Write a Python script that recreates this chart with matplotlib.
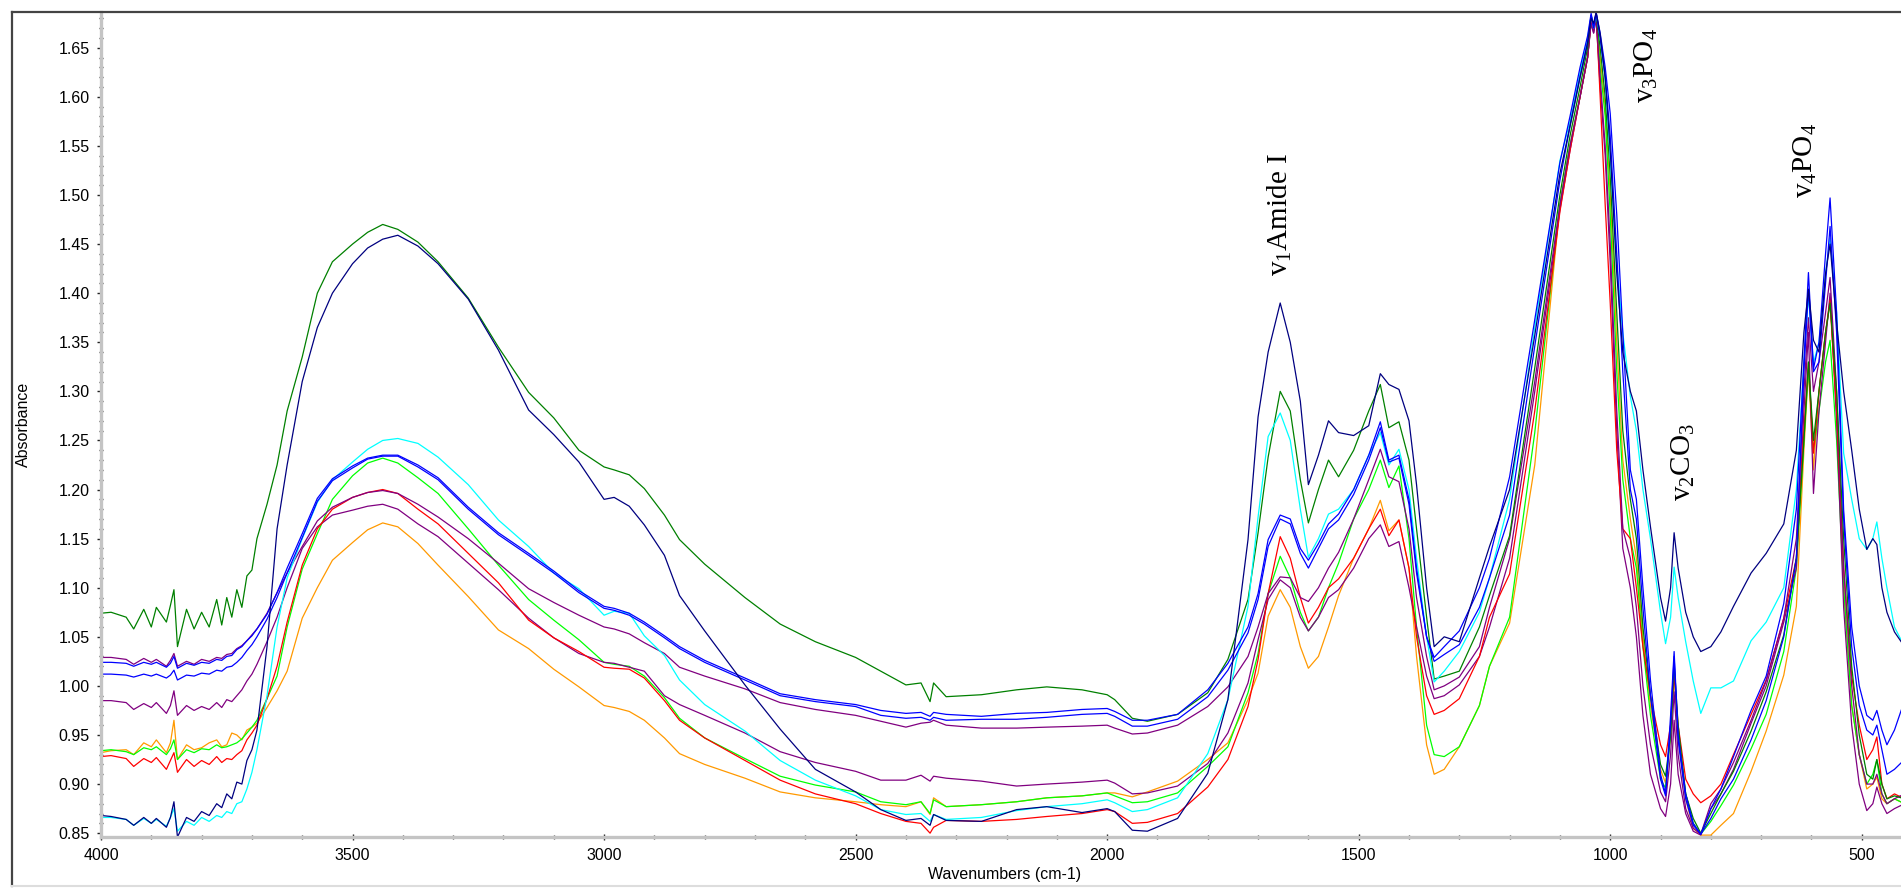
"""FTIR spectra (Absorbance vs wavenumber) with band labels."""

import matplotlib
matplotlib.use("Agg")
import matplotlib.pyplot as plt
from matplotlib.lines import Line2D
from matplotlib.ticker import MultipleLocator, FormatStrFormatter

# --- data: wavenumber grid (cm-1) shared by every spectrum ----------------
wavenumbers = [
    4000, 3980, 3950, 3935, 3915, 3900, 3890, 3870, 3862, 3855,
    3848, 3830, 3815, 3800, 3785, 3770, 3760, 3750, 3740, 3730,
    3720, 3710, 3700, 3690, 3670, 3650, 3630, 3600, 3570, 3540,
    3500,
    3470, 3440, 3410, 3370, 3330, 3270, 3210, 3150, 3100, 3050,
    3000, 2980, 2950, 2920, 2880, 2850, 2800, 2720, 2650, 2580,
    2500, 2450, 2400, 2370, 2352, 2345, 2320, 2250, 2180, 2120,
    2050, 2000, 1985, 1950, 1920, 1860, 1800, 1760, 1720, 1700,
    1680, 1656, 1636, 1616, 1600, 1580, 1560, 1540, 1510, 1480,
    1457, 1440, 1420, 1400, 1385, 1365, 1350, 1330, 1300, 1260,
    1240, 1200, 1150, 1100, 1080, 1060, 1045, 1038, 1033, 1028,
    1020, 1010, 1000, 987, 975, 960, 948, 935, 920, 900,
    890, 880, 873, 865, 850, 835, 820, 800, 780, 755,
    720, 690, 655, 630, 615, 606, 596, 585, 572, 563,
    550, 536, 520, 505, 490, 478, 470, 460, 450, 435,
    415,
]

green = [
    1.074, 1.075, 1.070, 1.058, 1.078, 1.060, 1.080, 1.065, 1.082, 1.098,
    1.040, 1.078, 1.058, 1.075, 1.060, 1.088, 1.062, 1.090, 1.070, 1.098,
    1.080, 1.112, 1.118, 1.150, 1.185, 1.225, 1.280, 1.335, 1.400, 1.432,
    1.450,
    1.462, 1.470, 1.465, 1.452, 1.432, 1.395, 1.345, 1.299, 1.273, 1.240,
    1.223, 1.220, 1.215, 1.201, 1.174, 1.149, 1.124, 1.090, 1.063, 1.045,
    1.029, 1.015, 1.001, 1.003, 0.984, 1.003, 0.989, 0.991, 0.996, 0.999,
    0.996, 0.991, 0.986, 0.967, 0.964, 0.971, 0.993, 1.027, 1.088, 1.156,
    1.233, 1.300, 1.280, 1.210, 1.166, 1.200, 1.230, 1.213, 1.240, 1.280,
    1.307, 1.263, 1.269, 1.230, 1.160, 1.070, 1.007, 1.010, 1.015, 1.060,
    1.092, 1.153, 1.324, 1.500, 1.560, 1.610, 1.650, 1.683, 1.672, 1.684,
    1.650, 1.600, 1.520, 1.380, 1.260, 1.190, 1.150, 1.060, 0.990, 0.920,
    0.908, 0.950, 1.023, 0.960, 0.890, 0.865, 0.850, 0.870, 0.890, 0.913,
    0.954, 0.994, 1.052, 1.130, 1.250, 1.330, 1.250, 1.300, 1.360, 1.390,
    1.300, 1.150, 1.020, 0.950, 0.910, 0.905, 0.925, 0.900, 0.885, 0.888,
    0.885,
]

navy = [
    0.868, 0.867, 0.864, 0.858, 0.866, 0.860, 0.865, 0.856, 0.866, 0.882,
    0.846, 0.866, 0.862, 0.872, 0.868, 0.880, 0.876, 0.890, 0.885, 0.902,
    0.900, 0.924, 0.935, 0.955, 1.040, 1.160, 1.225, 1.310, 1.365, 1.400,
    1.430,
    1.446, 1.455, 1.459, 1.448, 1.430, 1.394, 1.342, 1.281, 1.256, 1.228,
    1.190, 1.192, 1.183, 1.164, 1.133, 1.092, 1.056, 1.001, 0.956, 0.915,
    0.892, 0.874, 0.863, 0.865, 0.858, 0.869, 0.863, 0.862, 0.874, 0.877,
    0.871, 0.875, 0.872, 0.853, 0.852, 0.865, 0.911, 0.986, 1.149, 1.274,
    1.340, 1.390, 1.350, 1.290, 1.205, 1.235, 1.270, 1.258, 1.255, 1.265,
    1.318, 1.307, 1.302, 1.270, 1.205, 1.100, 1.040, 1.050, 1.045, 1.110,
    1.142, 1.200, 1.357, 1.522, 1.570, 1.620, 1.655, 1.680, 1.675, 1.686,
    1.664, 1.620, 1.545, 1.420, 1.340, 1.300, 1.280, 1.220, 1.162, 1.090,
    1.066, 1.100, 1.156, 1.120, 1.075, 1.050, 1.035, 1.040, 1.055, 1.081,
    1.115, 1.135, 1.165, 1.240, 1.360, 1.404, 1.352, 1.340, 1.420, 1.450,
    1.370, 1.300, 1.240, 1.180, 1.139, 1.150, 1.144, 1.100, 1.075, 1.055,
    1.040,
]

cyan = [
    0.866, 0.866, 0.864, 0.858, 0.865, 0.860, 0.864, 0.857, 0.866, 0.875,
    0.852, 0.862, 0.858, 0.866, 0.862, 0.868, 0.866, 0.872, 0.870, 0.880,
    0.882, 0.895, 0.912, 0.935, 0.990, 1.060, 1.110, 1.150, 1.187, 1.210,
    1.228,
    1.241, 1.250, 1.252, 1.247, 1.233, 1.205, 1.169, 1.142, 1.115, 1.099,
    1.072, 1.076, 1.074, 1.051, 1.031, 1.006, 0.981, 0.954, 0.924, 0.904,
    0.888, 0.874, 0.869, 0.870, 0.862, 0.869, 0.864, 0.866, 0.873, 0.877,
    0.880, 0.884, 0.881, 0.872, 0.874, 0.886, 0.931, 0.986, 1.081, 1.172,
    1.254, 1.278, 1.250, 1.180, 1.131, 1.150, 1.175, 1.180, 1.200, 1.235,
    1.258, 1.225, 1.241, 1.200, 1.130, 1.050, 1.004, 1.015, 1.035, 1.075,
    1.110, 1.190, 1.365, 1.535, 1.575, 1.625, 1.660, 1.682, 1.670, 1.685,
    1.660, 1.620, 1.537, 1.430, 1.360, 1.295, 1.260, 1.200, 1.150, 1.075,
    1.043, 1.070, 1.121, 1.090, 1.045, 1.005, 0.972, 0.998, 0.998, 1.005,
    1.046, 1.065, 1.100, 1.200, 1.330, 1.398, 1.329, 1.350, 1.420, 1.456,
    1.380, 1.237, 1.190, 1.150, 1.139, 1.150, 1.167, 1.130, 1.100, 1.060,
    1.040,
]

blue_a = [
    1.024, 1.024, 1.023, 1.020, 1.024, 1.022, 1.024, 1.019, 1.023, 1.030,
    1.018, 1.023, 1.021, 1.024, 1.023, 1.027, 1.026, 1.030, 1.031, 1.037,
    1.040, 1.046, 1.051, 1.058, 1.073, 1.095, 1.120, 1.155, 1.191, 1.211,
    1.224,
    1.232, 1.235, 1.235, 1.225, 1.212, 1.182, 1.156, 1.135, 1.117, 1.097,
    1.081, 1.079, 1.074, 1.065, 1.051, 1.040, 1.026, 1.008, 0.992, 0.986,
    0.981, 0.975, 0.972, 0.973, 0.969, 0.973, 0.971, 0.969, 0.972, 0.973,
    0.976, 0.977, 0.974, 0.965, 0.965, 0.971, 0.996, 1.023, 1.060, 1.094,
    1.149, 1.174, 1.170, 1.140, 1.128, 1.145, 1.165, 1.175, 1.200, 1.235,
    1.269, 1.230, 1.235, 1.190, 1.120, 1.050, 1.029, 1.040, 1.056, 1.100,
    1.130, 1.213, 1.373, 1.533, 1.580, 1.630, 1.662, 1.685, 1.672, 1.686,
    1.665, 1.630, 1.583, 1.480, 1.360, 1.220, 1.190, 1.100, 1.006, 0.910,
    0.890, 0.970, 1.035, 0.950, 0.890, 0.860, 0.849, 0.875, 0.895, 0.928,
    0.975, 1.010, 1.084, 1.180, 1.330, 1.421, 1.323, 1.350, 1.440, 1.497,
    1.380, 1.179, 1.060, 1.000, 0.970, 0.965, 0.975, 0.955, 0.940, 0.955,
    0.985,
]

blue_b = [
    1.012, 1.012, 1.011, 1.009, 1.012, 1.010, 1.012, 1.008, 1.011, 1.016,
    1.006, 1.011, 1.010, 1.013, 1.012, 1.016, 1.015, 1.019, 1.020, 1.024,
    1.029, 1.036, 1.042, 1.050, 1.068, 1.090, 1.115, 1.151, 1.188, 1.209,
    1.222,
    1.231, 1.234, 1.234, 1.223, 1.210, 1.180, 1.154, 1.133, 1.115, 1.095,
    1.079, 1.077, 1.072, 1.063, 1.049, 1.038, 1.024, 1.006, 0.990, 0.984,
    0.979, 0.970, 0.967, 0.968, 0.965, 0.968, 0.965, 0.966, 0.966, 0.968,
    0.971, 0.972, 0.969, 0.959, 0.959, 0.966, 0.989, 1.016, 1.054, 1.088,
    1.142, 1.170, 1.165, 1.135, 1.120, 1.140, 1.160, 1.169, 1.195, 1.230,
    1.263, 1.228, 1.232, 1.185, 1.115, 1.050, 1.025, 1.032, 1.042, 1.080,
    1.110, 1.174, 1.346, 1.515, 1.570, 1.620, 1.655, 1.683, 1.670, 1.685,
    1.660, 1.620, 1.560, 1.440, 1.320, 1.200, 1.170, 1.080, 0.990, 0.905,
    0.888, 0.960, 1.030, 0.945, 0.885, 0.858, 0.849, 0.865, 0.885, 0.905,
    0.945, 0.985, 1.050, 1.130, 1.320, 1.404, 1.320, 1.330, 1.410, 1.468,
    1.360, 1.170, 1.040, 0.980, 0.955, 0.950, 0.960, 0.935, 0.910, 0.915,
    0.925,
]

purple_a = [
    1.029, 1.029, 1.027, 1.022, 1.028, 1.024, 1.027, 1.020, 1.026, 1.033,
    1.020, 1.025, 1.022, 1.027, 1.025, 1.029, 1.028, 1.032, 1.033, 1.038,
    1.041, 1.046, 1.052, 1.058, 1.074, 1.095, 1.115, 1.142, 1.168, 1.182,
    1.192,
    1.197, 1.199, 1.196, 1.185, 1.172, 1.150, 1.125, 1.099, 1.085, 1.072,
    1.060, 1.058, 1.053, 1.044, 1.033, 1.019, 1.010, 0.997, 0.983, 0.976,
    0.970, 0.964, 0.958, 0.962, 0.963, 0.965, 0.960, 0.957, 0.957, 0.958,
    0.959, 0.960, 0.957, 0.951, 0.952, 0.960, 0.979, 0.999, 1.030, 1.060,
    1.094, 1.111, 1.110, 1.090, 1.086, 1.100, 1.120, 1.136, 1.170, 1.210,
    1.241, 1.213, 1.208, 1.160, 1.090, 1.030, 0.996, 1.000, 1.009, 1.040,
    1.080, 1.150, 1.310, 1.490, 1.550, 1.600, 1.640, 1.675, 1.665, 1.680,
    1.620, 1.550, 1.450, 1.280, 1.160, 1.130, 1.080, 1.000, 0.940, 0.892,
    0.882, 0.930, 0.994, 0.930, 0.875, 0.855, 0.849, 0.880, 0.895, 0.922,
    0.965, 1.005, 1.069, 1.150, 1.300, 1.375, 1.300, 1.330, 1.380, 1.416,
    1.300, 1.120, 1.000, 0.930, 0.900, 0.900, 0.910, 0.890, 0.880, 0.885,
    0.890,
]

purple_b = [
    0.985, 0.985, 0.983, 0.976, 0.982, 0.978, 0.983, 0.972, 0.980, 0.995,
    0.970, 0.980, 0.975, 0.979, 0.976, 0.983, 0.978, 0.986, 0.984, 0.990,
    0.996, 1.005, 1.012, 1.022, 1.045, 1.070, 1.100, 1.140, 1.162, 1.174,
    1.179,
    1.183, 1.185, 1.180, 1.165, 1.152, 1.125, 1.098, 1.069, 1.049, 1.033,
    1.024, 1.023, 1.019, 1.015, 0.990, 0.981, 0.970, 0.952, 0.933, 0.922,
    0.913, 0.904, 0.904, 0.909, 0.903, 0.908, 0.906, 0.903, 0.898, 0.900,
    0.902, 0.904, 0.901, 0.890, 0.891, 0.898, 0.921, 0.952, 1.003, 1.047,
    1.088, 1.108, 1.100, 1.070, 1.056, 1.070, 1.090, 1.098, 1.120, 1.150,
    1.164, 1.142, 1.147, 1.100, 1.060, 1.010, 0.987, 0.990, 1.001, 1.030,
    1.060, 1.130, 1.300, 1.485, 1.545, 1.600, 1.640, 1.675, 1.665, 1.680,
    1.610, 1.540, 1.430, 1.260, 1.140, 1.100, 1.050, 0.970, 0.910, 0.875,
    0.867, 0.900, 0.965, 0.910, 0.870, 0.852, 0.848, 0.875, 0.890, 0.915,
    0.962, 1.000, 1.065, 1.120, 1.280, 1.360, 1.196, 1.280, 1.350, 1.400,
    1.270, 1.080, 0.960, 0.900, 0.873, 0.880, 0.897, 0.880, 0.870, 0.875,
    0.880,
]

red = [
    0.928, 0.929, 0.926, 0.918, 0.926, 0.922, 0.927, 0.915, 0.924, 0.932,
    0.912, 0.925, 0.918, 0.924, 0.920, 0.928, 0.922, 0.926, 0.925, 0.930,
    0.934, 0.945, 0.952, 0.960, 0.987, 1.020, 1.065, 1.123, 1.160, 1.180,
    1.192,
    1.197, 1.200, 1.196, 1.180, 1.165, 1.135, 1.105, 1.067, 1.049, 1.035,
    1.019, 1.018, 1.017, 1.008, 0.985, 0.965, 0.947, 0.924, 0.904, 0.890,
    0.880, 0.870, 0.862, 0.860, 0.850, 0.856, 0.863, 0.862, 0.864, 0.867,
    0.870, 0.874, 0.872, 0.860, 0.861, 0.870, 0.897, 0.925, 0.979, 1.027,
    1.094, 1.152, 1.130, 1.090, 1.064, 1.080, 1.100, 1.109, 1.130, 1.160,
    1.180, 1.153, 1.169, 1.120, 1.050, 0.990, 0.971, 0.975, 0.987, 1.030,
    1.070, 1.114, 1.280, 1.483, 1.545, 1.600, 1.640, 1.678, 1.668, 1.685,
    1.600, 1.490, 1.390, 1.240, 1.160, 1.150, 1.100, 1.040, 0.990, 0.940,
    0.928, 0.960, 1.011, 0.960, 0.905, 0.890, 0.881, 0.888, 0.900, 0.930,
    0.971, 1.006, 1.069, 1.130, 1.260, 1.329, 1.237, 1.300, 1.360, 1.393,
    1.280, 1.120, 1.010, 0.960, 0.925, 0.935, 0.948, 0.900, 0.885, 0.890,
    0.885,
]

lime = [
    0.934, 0.935, 0.933, 0.930, 0.937, 0.935, 0.938, 0.930, 0.936, 0.945,
    0.925, 0.935, 0.932, 0.936, 0.935, 0.940, 0.937, 0.938, 0.940, 0.942,
    0.946, 0.952, 0.958, 0.965, 0.987, 1.010, 1.060, 1.119, 1.155, 1.190,
    1.214,
    1.227, 1.232, 1.227, 1.212, 1.196, 1.160, 1.123, 1.088, 1.067, 1.047,
    1.024, 1.022, 1.020, 1.010, 0.988, 0.967, 0.947, 0.926, 0.908, 0.899,
    0.892, 0.882, 0.879, 0.882, 0.870, 0.884, 0.877, 0.879, 0.882, 0.886,
    0.888, 0.891, 0.888, 0.881, 0.882, 0.891, 0.918, 0.938, 0.993, 1.033,
    1.094, 1.132, 1.110, 1.075, 1.056, 1.070, 1.100, 1.125, 1.170, 1.200,
    1.230, 1.202, 1.224, 1.150, 1.060, 0.960, 0.930, 0.928, 0.938, 0.980,
    1.020, 1.070, 1.258, 1.490, 1.550, 1.600, 1.640, 1.678, 1.668, 1.684,
    1.630, 1.580, 1.480, 1.320, 1.210, 1.150, 1.120, 1.040, 0.970, 0.905,
    0.896, 0.950, 1.017, 0.950, 0.890, 0.860, 0.849, 0.862, 0.878, 0.899,
    0.936, 0.971, 1.035, 1.120, 1.250, 1.323, 1.240, 1.280, 1.330, 1.352,
    1.250, 1.100, 0.980, 0.930, 0.900, 0.910, 0.925, 0.890, 0.880, 0.885,
    0.880,
]

orange = [
    0.932, 0.934, 0.935, 0.930, 0.942, 0.938, 0.945, 0.932, 0.942, 0.965,
    0.925, 0.940, 0.935, 0.937, 0.942, 0.945, 0.938, 0.940, 0.952, 0.950,
    0.945, 0.955, 0.958, 0.962, 0.978, 0.995, 1.015, 1.069, 1.100, 1.128,
    1.146,
    1.159, 1.166, 1.162, 1.145, 1.123, 1.091, 1.057, 1.038, 1.017, 0.999,
    0.980, 0.978, 0.974, 0.965, 0.947, 0.931, 0.920, 0.906, 0.892, 0.886,
    0.882, 0.879, 0.877, 0.882, 0.869, 0.886, 0.877, 0.879, 0.882, 0.886,
    0.888, 0.891, 0.891, 0.887, 0.892, 0.903, 0.925, 0.942, 0.986, 1.013,
    1.071, 1.098, 1.080, 1.040, 1.018, 1.030, 1.060, 1.092, 1.130, 1.160,
    1.189, 1.158, 1.169, 1.120, 1.030, 0.940, 0.910, 0.915, 0.938, 0.980,
    1.020, 1.064, 1.225, 1.490, 1.550, 1.600, 1.640, 1.678, 1.668, 1.684,
    1.640, 1.590, 1.500, 1.350, 1.230, 1.170, 1.130, 1.050, 0.980, 0.915,
    0.901, 0.950, 1.017, 0.950, 0.885, 0.855, 0.848, 0.848, 0.858, 0.870,
    0.913, 0.954, 1.011, 1.081, 1.240, 1.323, 1.220, 1.300, 1.360, 1.390,
    1.280, 1.100, 0.980, 0.930, 0.895, 0.900, 0.907, 0.885, 0.880, 0.885,
    0.880,
]

spectra = [
    (orange, "#ff9900"),
    (lime, "#00ff00"),
    (purple_b, "#800080"),
    (red, "#ff0000"),
    (purple_a, "#800080"),
    (green, "#008000"),
    (cyan, "#00ffff"),
    (blue_b, "#0000ff"),
    (blue_a, "#0000ff"),
    (navy, "#000080"),
]

# band labels: (text, wavenumber, absorbance at the bottom of the label)
bands = [
    (r"$\mathregular{v_1}$Amide I", 1656, 1.418),
    (r"$\mathregular{v_3PO_4}$", 928, 1.594),
    (r"$\mathregular{v_2CO_3}$", 855, 1.188),
    (r"$\mathregular{v_4PO_4}$", 613, 1.497),
]

# --- figure -------------------------------------------------------------
W, H = 1901, 888
fig = plt.figure(figsize=(W / 100, H / 100), dpi=100)
ax = fig.add_axes([101 / W, 1 - 836.7 / H, 1 - 101 / W, (836.7 - 11.7) / H])

for values, color in spectra:
    ax.plot(wavenumbers, values, color=color, lw=0.9)

ax.set_xlim(4000, 422)
ax.set_ylim(0.8464, 1.6867)

tick_font = {"family": "Liberation Sans", "size": 11.5}
ax.xaxis.set_major_locator(MultipleLocator(500))
ax.xaxis.set_minor_locator(MultipleLocator(100))
ax.yaxis.set_major_locator(MultipleLocator(0.05))
ax.yaxis.set_minor_locator(MultipleLocator(0.01))
ax.yaxis.set_major_formatter(FormatStrFormatter("%.2f"))
ax.tick_params(axis="y", which="major", direction="out", length=3,
               width=1, color="#222222", pad=5)
ax.tick_params(axis="y", which="minor", direction="inout", length=3,
               width=1, color="#333333")
ax.tick_params(axis="x", which="major", direction="inout", length=4,
               width=1, color="#222222", pad=6)
ax.tick_params(axis="x", which="minor", direction="inout", length=3,
               width=1, color="#333333")
for lab in ax.get_xticklabels() + ax.get_yticklabels():
    lab.set_fontfamily(tick_font["family"])
    lab.set_fontsize(tick_font["size"])

for side in ("top", "right"):
    ax.spines[side].set_visible(False)
for side in ("left", "bottom"):
    ax.spines[side].set_color("#c4c4c4")
    ax.spines[side].set_linewidth(2.4)

for text, wn, y in bands:
    ax.text(wn, y, text, rotation=90, ha="center", va="bottom",
            family="Liberation Serif", size=21)

fig.text(23 / W, 1 - 424 / H, "Absorbance", rotation=90, ha="center",
         va="center", **tick_font)
fig.text(1005 / W, 1 - 874 / H, "Wavenumbers (cm-1)", ha="center",
         va="center", **tick_font)

# outer frame of the exported picture
fig.add_artist(Line2D([11.5 / W, 1], [1 - 11.7 / H] * 2,
                      transform=fig.transFigure, color="#444444", lw=1.6))
fig.add_artist(Line2D([11.5 / W] * 2, [1 - 886 / H, 1 - 11.7 / H],
                      transform=fig.transFigure, color="#444444", lw=1.6))
fig.add_artist(Line2D([11.5 / W, 1], [1 - 886 / H] * 2,
                      transform=fig.transFigure, color="#dddddd", lw=1.5))

fig.savefig("out.png", dpi=100)
